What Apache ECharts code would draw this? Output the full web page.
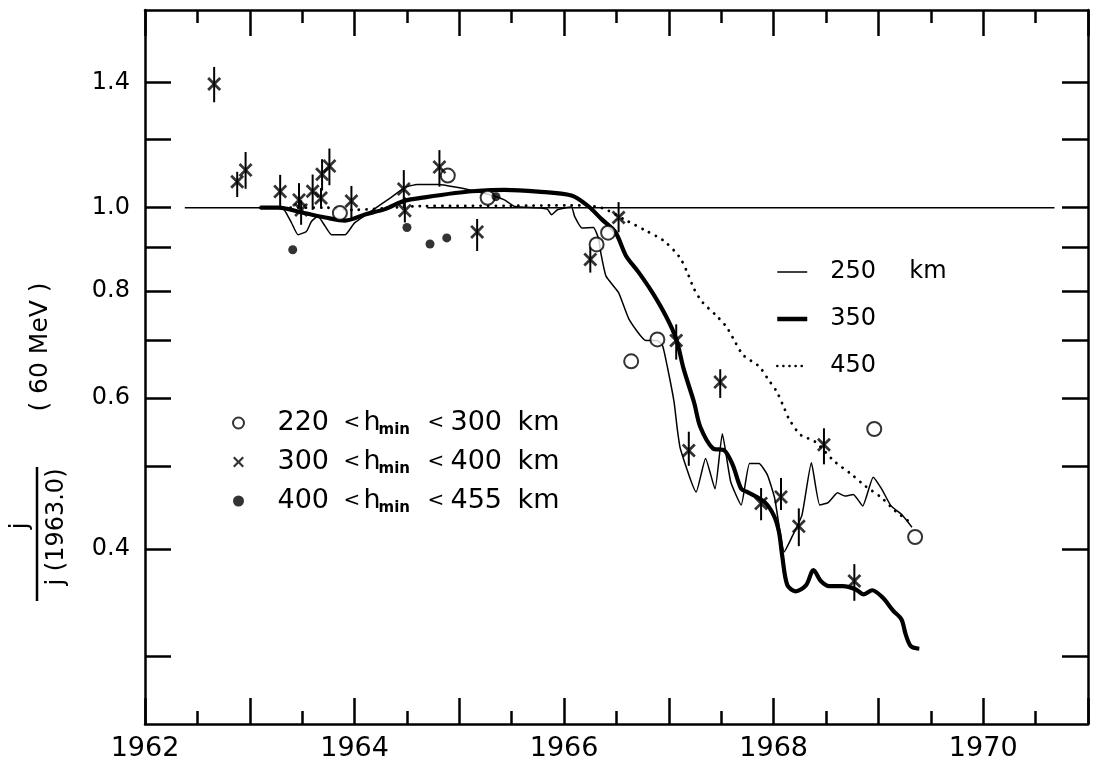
<!DOCTYPE html>
<html>
<head>
<meta charset="utf-8">
<script src="https://cdn.jsdelivr.net/npm/echarts@6/dist/echarts.min.js"></script>
<style>
html,body{margin:0;padding:0;background:#fff;}
#chart{width:1099px;height:774px;}
</style>
</head>
<body>
<div id="chart"></div>
<script>
// ---------- axis data ----------
const xRange = [1962, 1971];
const yRange = [0.25, 1.7];
const xLabelYears = [1962, 1964, 1966, 1968, 1970];
const yTickValues = [1.4, 1.2, 1.0, 0.9, 0.8, 0.7, 0.6, 0.5, 0.4, 0.3];
const yLabelValues = [1.4, 1.0, 0.8, 0.6, 0.4];

// ---------- curves (year, j/j(1963.0)) ----------
const curve250 = [[1963.10,1.000],[1963.27,1.000],[1963.33,0.994],[1963.40,0.959],[1963.46,0.930],[1963.54,0.938],[1963.59,0.964],[1963.65,0.977],[1963.72,0.951],[1963.78,0.930],[1963.91,0.930],[1964.00,0.960],[1964.16,0.991],[1964.35,1.028],[1964.48,1.056],[1964.60,1.064],[1964.80,1.064],[1964.96,1.057],[1965.11,1.048],[1965.31,1.034],[1965.43,1.021],[1965.53,1.003],[1965.75,1.000],[1965.84,0.996],[1965.88,0.981],[1965.94,0.995],[1966.07,1.002],[1966.10,0.977],[1966.17,0.947],[1966.28,0.948],[1966.33,0.919],[1966.35,0.886],[1966.40,0.832],[1966.52,0.796],[1966.62,0.741],[1966.78,0.700],[1966.89,0.700],[1966.94,0.690],[1966.99,0.648],[1967.05,0.593],[1967.08,0.552],[1967.11,0.523],[1967.26,0.466],[1967.35,0.510],[1967.44,0.470],[1967.51,0.545],[1967.59,0.479],[1967.69,0.450],[1967.77,0.503],[1967.86,0.503],[1967.94,0.488],[1968.01,0.458],[1968.06,0.419],[1968.10,0.397],[1968.17,0.412],[1968.27,0.438],[1968.36,0.504],[1968.44,0.450],[1968.52,0.453],[1968.61,0.465],[1968.68,0.461],[1968.76,0.463],[1968.85,0.449],[1968.95,0.485],[1969.03,0.470],[1969.12,0.449],[1969.22,0.439],[1969.32,0.424]];
const curve350 = [[1963.10,1.000],[1963.27,1.000],[1963.53,0.985],[1963.72,0.974],[1963.91,0.966],[1964.10,0.982],[1964.29,0.996],[1964.48,1.019],[1964.67,1.028],[1964.96,1.040],[1965.12,1.045],[1965.43,1.049],[1965.75,1.044],[1966.07,1.033],[1966.23,1.004],[1966.36,0.969],[1966.49,0.936],[1966.59,0.879],[1966.71,0.841],[1966.84,0.797],[1966.97,0.748],[1967.07,0.703],[1967.14,0.649],[1967.24,0.593],[1967.30,0.555],[1967.42,0.524],[1967.53,0.521],[1967.61,0.501],[1967.69,0.470],[1967.75,0.466],[1967.91,0.454],[1968.00,0.438],[1968.05,0.419],[1968.08,0.394],[1968.13,0.363],[1968.21,0.357],[1968.31,0.363],[1968.38,0.378],[1968.45,0.367],[1968.53,0.362],[1968.66,0.362],[1968.78,0.359],[1968.86,0.354],[1968.94,0.358],[1969.04,0.351],[1969.14,0.339],[1969.22,0.331],[1969.26,0.318],[1969.31,0.308],[1969.39,0.306]];
const curve450 = [[1963.10,1.000],[1963.72,1.000],[1963.97,0.994],[1964.64,1.004],[1965.50,1.005],[1966.07,1.006],[1966.35,1.000],[1966.60,0.965],[1966.78,0.940],[1966.95,0.915],[1967.10,0.876],[1967.18,0.838],[1967.24,0.804],[1967.32,0.776],[1967.45,0.749],[1967.55,0.726],[1967.63,0.698],[1967.71,0.673],[1967.86,0.653],[1967.95,0.630],[1968.03,0.610],[1968.10,0.584],[1968.15,0.566],[1968.26,0.543],[1968.39,0.534],[1968.58,0.506],[1968.74,0.489],[1968.87,0.474],[1969.03,0.459],[1969.16,0.443],[1969.32,0.428]];
// unit reference line (two drawn segments: start, end years)
const refSegments = [[1962.38, 1963.30], [1964.69, 1970.68]];
const refValue = 1.0;

// ---------- measurements ----------
const circles = [[1963.86,0.986],[1964.89,1.090],[1965.27,1.027],[1966.31,0.906],[1966.42,0.935],[1966.64,0.662],[1966.89,0.702],[1968.96,0.552],[1969.35,0.413]];
const crosses = [[1962.66,1.394],[1962.88,1.072],[1962.96,1.106],[1963.29,1.044],[1963.47,1.021],[1963.49,0.994],[1963.60,1.045],[1963.68,1.026],[1963.69,1.094],[1963.76,1.118],[1963.97,1.018],[1964.47,1.051],[1964.48,0.992],[1964.81,1.115],[1965.17,0.937],[1966.25,0.870],[1966.52,0.974],[1967.07,0.700],[1967.19,0.521],[1967.49,0.626],[1967.88,0.452],[1968.07,0.460],[1968.24,0.425],[1968.48,0.529],[1968.77,0.367]];
const crossLow  = [1.327,1.029,1.052,0.998,1.000,0.955,0.994,1.001,1.047,1.062,0.968,1.000,0.961,1.058,0.890,0.840,0.936,0.665,0.500,0.600,0.432,0.444,0.403,0.502,0.348];
const crossHigh = [1.459,1.101,1.161,1.092,1.068,1.020,1.093,1.054,1.139,1.172,1.060,1.106,1.028,1.167,0.970,0.900,1.015,0.731,0.548,0.648,0.471,0.484,0.446,0.553,0.384];
const dots = [[1963.41,0.893],[1964.50,0.948],[1964.72,0.907],[1964.88,0.922],[1965.35,1.030]];

// legend texts
const lineNames = ['250 km', '350 km', '450 km'];
const hminLow = [220, 300, 400];
const hminHigh = [300, 400, 455];
const pointNames = hminLow.map((lo, i) => lo + ' < h_min < ' + hminHigh[i] + ' km');

// ---------- helpers ----------
const FONT = 'DejaVu Sans';
const lg = v => Math.log10(v);
const toLog = arr => arr.map(p => [p[0], lg(p[1])]);
const refData = [];
refSegments.forEach((s, i) => {
  if (i > 0) refData.push([(refSegments[i-1][1] + s[0]) / 2, '-']);
  refData.push([s[0], lg(refValue)], [s[1], lg(refValue)]);
});
const crossPath = 'path://M0,1.4L1.4,0L5,3.6L8.6,0L10,1.4L6.4,5L10,8.6L8.6,10L5,6.4L1.4,10L0,8.6L3.6,5Z';

const tickStyle = {color: '#000', width: 2.5};
const axisLineStyle = {color: '#000', width: 2.5};
const hiddenSymbol = {opacity: 0, color: 'rgba(0,0,0,0)', borderWidth: 0};

const chart = echarts.init(document.getElementById('chart'), null, {renderer: 'canvas'});
chart.setOption({
  backgroundColor: '#fff',
  animation: false,
  grid: {left: 145, right: 11, top: 10, bottom: 50, containLabel: false},
  xAxis: [{
    type: 'value', min: xRange[0], max: xRange[1], interval: 1, position: 'bottom',
    axisLine: {show: true, onZero: false, lineStyle: axisLineStyle},
    axisTick: {show: true, inside: true, length: 26, lineStyle: tickStyle},
    minorTick: {show: true, splitNumber: 2, length: 13, lineStyle: tickStyle},
    axisLabel: {customValues: xLabelYears, margin: 11, color: '#000', fontFamily: FONT, fontSize: 27,
      formatter: v => String(Math.round(v))},
    splitLine: {show: false}
  }, {
    type: 'value', min: xRange[0], max: xRange[1], interval: 1, position: 'top',
    axisLine: {show: true, onZero: false, lineStyle: axisLineStyle},
    axisTick: {show: true, inside: true, length: 26, lineStyle: tickStyle},
    minorTick: {show: true, splitNumber: 2, length: 13, lineStyle: tickStyle},
    axisLabel: {show: false}, splitLine: {show: false}
  }],
  yAxis: [{
    type: 'value', min: lg(yRange[0]), max: lg(yRange[1]), position: 'left',
    axisLine: {show: true, onZero: false, lineStyle: axisLineStyle},
    axisTick: {show: true, inside: true, length: 26, lineStyle: tickStyle, customValues: yTickValues.map(lg)},
    axisLabel: {customValues: yLabelValues.map(lg), margin: 15, color: '#000', fontFamily: FONT, fontSize: 24,
      formatter: v => Math.pow(10, v).toFixed(1)},
    splitLine: {show: false}
  }, {
    type: 'value', min: lg(yRange[0]), max: lg(yRange[1]), position: 'right',
    axisLine: {show: true, onZero: false, lineStyle: axisLineStyle},
    axisTick: {show: true, inside: true, length: 26, lineStyle: tickStyle, customValues: yTickValues.map(lg)},
    axisLabel: {show: false}, splitLine: {show: false}
  }],
  legend: [{
    orient: 'vertical', left: 775, top: 257, padding: 0, itemGap: 17,
    itemWidth: 30, itemHeight: 14, selectedMode: false,
    data: [
      {name: lineNames[0], itemStyle: hiddenSymbol, lineStyle: {width: 1.5}},
      {name: lineNames[1], itemStyle: hiddenSymbol, lineStyle: {width: 4.5}},
      {name: lineNames[2], itemStyle: hiddenSymbol, lineStyle: {width: 2.5, type: [0.1, 6], cap: 'round'}}
    ],
    formatter: name => {
      const parts = name.split(' ');
      return name === lineNames[0] ? '{n|' + parts[0] + '}{u|' + parts[1] + '}' : '{n|' + parts[0] + '}';
    },
    textStyle: {color: '#000', fontFamily: FONT, fontSize: 24, lineHeight: 30,
      rich: {
        n: {fontFamily: FONT, fontSize: 24, lineHeight: 30, color: '#000', width: 79, padding: [0, 0, 0, 18]},
        u: {fontFamily: FONT, fontSize: 24, lineHeight: 30, color: '#000'}
      }}
  }, {
    orient: 'vertical', left: 232, top: 408, padding: 0, itemGap: 9,
    itemWidth: 68, itemHeight: 11, selectedMode: false,
    data: pointNames,
    formatter: name => {
      const i = pointNames.indexOf(name);
      return '{n|' + hminLow[i] + '}{lt|<}{h|h}{sub|min}{lt2|<}{n2|' + hminHigh[i] + '}{km|km}';
    },
    textStyle: {color: '#000', fontFamily: FONT, fontSize: 26, lineHeight: 30,
      rich: {
        n: {fontFamily: FONT, fontSize: 27, lineHeight: 30, color: '#000', width: 66},
        lt: {fontFamily: FONT, fontSize: 20, lineHeight: 30, color: '#000', width: 20},
        h: {fontFamily: FONT, fontSize: 27, lineHeight: 30, color: '#000', width: 15},
        sub: {fontFamily: FONT, fontSize: 15, fontWeight: 'bold', lineHeight: 15, verticalAlign: 'bottom', color: '#000', width: 49},
        lt2: {fontFamily: FONT, fontSize: 20, lineHeight: 30, color: '#000', width: 23},
        n2: {fontFamily: FONT, fontSize: 27, lineHeight: 30, color: '#000', width: 67},
        km: {fontFamily: FONT, fontSize: 27, lineHeight: 30, color: '#000'}
      }}
  }],
  graphic: [
    {type: 'text', x: 40, y: 347, rotation: Math.PI / 2,
     style: {text: '( 60 MeV )', fontFamily: FONT, fontSize: 25, fill: '#000', align: 'center', verticalAlign: 'middle', textAlign: 'center', textVerticalAlign: 'middle'}},
    {type: 'text', x: 21, y: 526, rotation: Math.PI / 2,
     style: {text: 'j', fontFamily: FONT, fontSize: 24, fill: '#000', align: 'center', verticalAlign: 'middle', textAlign: 'center', textVerticalAlign: 'middle'}},
    {type: 'line', shape: {x1: 37, y1: 467, x2: 37, y2: 601}, style: {stroke: '#000', lineWidth: 2.5}},
    {type: 'text', x: 57, y: 527, rotation: Math.PI / 2,
     style: {text: 'j (1963.0)', fontFamily: FONT, fontSize: 24, fill: '#000', align: 'center', verticalAlign: 'middle', textAlign: 'center', textVerticalAlign: 'middle'}}
  ],
  series: [
    {name: 'reference', type: 'line', data: refData, connectNulls: false, symbol: 'none', showSymbol: false,
     lineStyle: {color: '#000', width: 1.5}, z: 2, silent: true},
    {name: lineNames[2], type: 'line', data: toLog(curve450), symbol: 'none', showSymbol: false, smooth: 0.3,
     lineStyle: {color: '#000', width: 2.8, type: [0.1, 7.5], cap: 'round'}, itemStyle: {color: '#000'}, z: 3},
    {name: lineNames[0], type: 'line', data: toLog(curve250), symbol: 'none', showSymbol: false, smooth: 0.15,
     lineStyle: {color: '#000', width: 1.5}, itemStyle: {color: '#000'}, z: 3},
    {name: lineNames[1], type: 'line', data: toLog(curve350), symbol: 'none', showSymbol: false, smooth: 0.3,
     lineStyle: {color: '#000', width: 4.2}, itemStyle: {color: '#000'}, z: 3},
    {name: 'error bars', type: 'custom', silent: true, z: 4,
     data: crosses.map((p, i) => [p[0], lg(crossLow[i]), lg(crossHigh[i])]),
     encode: {x: 0, y: [1, 2]},
     renderItem: (params, api) => {
       const a = api.coord([api.value(0), api.value(1)]);
       const b = api.coord([api.value(0), api.value(2)]);
       return {type: 'line', shape: {x1: a[0], y1: a[1], x2: b[0], y2: b[1]}, style: {stroke: '#000', lineWidth: 2}};
     }},
    {name: pointNames[0], type: 'scatter', data: toLog(circles), symbol: 'emptyCircle', symbolSize: 14,
     itemStyle: {color: '#000', borderColor: '#000', borderWidth: 2}, z: 5},
    {name: pointNames[1], type: 'scatter', data: toLog(crosses), symbol: crossPath, symbolSize: 14,
     itemStyle: {color: '#000'}, z: 5},
    {name: pointNames[2], type: 'scatter', data: toLog(dots), symbol: 'circle', symbolSize: 9,
     itemStyle: {color: '#000'}, z: 5}
  ]
});
</script>
</body>
</html>
